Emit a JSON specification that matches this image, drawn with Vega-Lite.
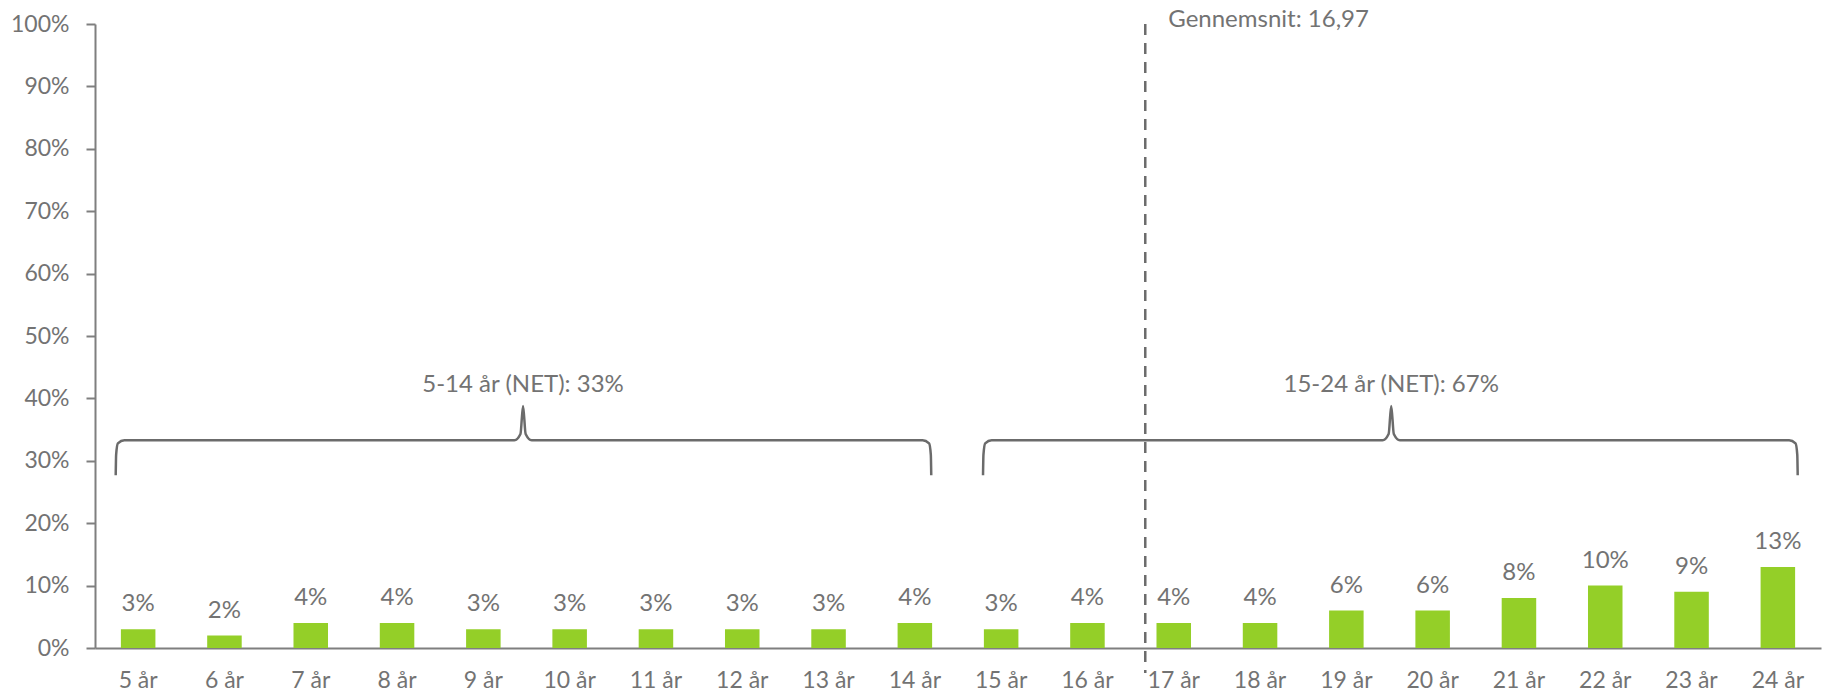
{
  "$schema": "https://vega.github.io/schema/vega-lite/v6.json",
  "width": 1726,
  "height": 624,
  "autosize": {"type": "none"},
  "padding": {"left": 95, "top": 24, "right": 1, "bottom": 47},
  "background": "white",
  "config": {
    "font": "Lato",
    "view": {"stroke": null},
    "axis": {"labelFont": "Lato", "labelColor": "#737373", "domainColor": "#7f7f7f", "tickColor": "#7f7f7f", "domainWidth": 2, "tickWidth": 2}
  },
  "datasets": {
    "bars": [
      {"age": "5 år", "value": 0.03},
      {"age": "6 år", "value": 0.02},
      {"age": "7 år", "value": 0.04},
      {"age": "8 år", "value": 0.04},
      {"age": "9 år", "value": 0.03},
      {"age": "10 år", "value": 0.03},
      {"age": "11 år", "value": 0.03},
      {"age": "12 år", "value": 0.03},
      {"age": "13 år", "value": 0.03},
      {"age": "14 år", "value": 0.04},
      {"age": "15 år", "value": 0.03},
      {"age": "16 år", "value": 0.04},
      {"age": "17 år", "value": 0.04},
      {"age": "18 år", "value": 0.04},
      {"age": "19 år", "value": 0.06},
      {"age": "20 år", "value": 0.06},
      {"age": "21 år", "value": 0.08},
      {"age": "22 år", "value": 0.10},
      {"age": "23 år", "value": 0.09},
      {"age": "24 år", "value": 0.13}
    ],
    "braces": [
      {"brace": "a", "x": 4.74, "y": 0.277},
      {"brace": "a", "x": 4.745, "y": 0.31},
      {"brace": "a", "x": 4.765, "y": 0.328},
      {"brace": "a", "x": 4.84, "y": 0.333},
      {"brace": "a", "x": 9.36, "y": 0.333},
      {"brace": "a", "x": 9.43, "y": 0.343},
      {"brace": "a", "x": 9.46, "y": 0.388},
      {"brace": "a", "x": 9.49, "y": 0.343},
      {"brace": "a", "x": 9.56, "y": 0.333},
      {"brace": "a", "x": 14.09, "y": 0.333},
      {"brace": "a", "x": 14.165, "y": 0.328},
      {"brace": "a", "x": 14.185, "y": 0.31},
      {"brace": "a", "x": 14.19, "y": 0.277},
      {"brace": "b", "x": 14.79, "y": 0.277},
      {"brace": "b", "x": 14.795, "y": 0.31},
      {"brace": "b", "x": 14.815, "y": 0.328},
      {"brace": "b", "x": 14.89, "y": 0.333},
      {"brace": "b", "x": 19.42, "y": 0.333},
      {"brace": "b", "x": 19.49, "y": 0.343},
      {"brace": "b", "x": 19.52, "y": 0.388},
      {"brace": "b", "x": 19.55, "y": 0.343},
      {"brace": "b", "x": 19.62, "y": 0.333},
      {"brace": "b", "x": 24.13, "y": 0.333},
      {"brace": "b", "x": 24.205, "y": 0.328},
      {"brace": "b", "x": 24.225, "y": 0.31},
      {"brace": "b", "x": 24.23, "y": 0.277}
    ],
    "braceLabels": [
      {"x": 9.46, "y": 0.421, "label": "5-14 år (NET): 33%"},
      {"x": 19.52, "y": 0.421, "label": "15-24 år (NET): 67%"}
    ],
    "mean": [
      {"x": 16.67, "top": 1.0, "bottom": -0.04, "labelY": 1.0, "label": "Gennemsnit: 16,97"}
    ]
  },
  "resolve": {"scale": {"x": "independent"}},
  "layer": [
    {
      "data": {"name": "bars"},
      "mark": {"type": "bar", "color": "#94cf28"},
      "encoding": {
        "x": {"field": "age", "type": "nominal", "sort": null,
              "scale": {"paddingInner": 0.6, "paddingOuter": 0.3},
              "axis": {"title": null, "labelAngle": 0, "ticks": false, "labelFontSize": 23, "labelPadding": 21}},
        "y": {"field": "value", "type": "quantitative",
              "scale": {"domain": [0, 1], "nice": false},
              "axis": {"title": null, "format": ".0%", "values": [0, 0.1, 0.2, 0.3, 0.4, 0.5, 0.6, 0.7, 0.8, 0.9, 1.0], "grid": false, "tickSize": 9, "labelFontSize": 23, "labelPadding": 17}}
      }
    },
    {
      "data": {"name": "bars"},
      "mark": {"type": "text", "baseline": "alphabetic", "dy": -18, "fontSize": 24, "color": "#737373", "font": "Lato"},
      "encoding": {
        "x": {"field": "age", "type": "nominal", "sort": null,
              "scale": {"paddingInner": 0.6, "paddingOuter": 0.3}, "axis": null},
        "y": {"field": "value", "type": "quantitative", "scale": {"domain": [0, 1], "nice": false}},
        "text": {"field": "value", "type": "quantitative", "format": ".0%"}
      }
    },
    {
      "data": {"name": "mean"},
      "mark": {"type": "rule", "color": "#6b6b6b", "strokeWidth": 2.5, "strokeDash": [11, 8]},
      "encoding": {
        "x": {"field": "x", "type": "quantitative", "scale": {"domain": [4.5, 24.5], "nice": false, "zero": false}, "axis": null},
        "y": {"field": "top", "type": "quantitative", "scale": {"domain": [0, 1], "nice": false}},
        "y2": {"field": "bottom"}
      }
    },
    {
      "data": {"name": "mean"},
      "mark": {"type": "text", "align": "left", "baseline": "middle", "dx": 23, "dy": -4, "fontSize": 24, "color": "#737373", "font": "Lato"},
      "encoding": {
        "x": {"field": "x", "type": "quantitative", "scale": {"domain": [4.5, 24.5], "nice": false, "zero": false}, "axis": null},
        "y": {"field": "labelY", "type": "quantitative", "scale": {"domain": [0, 1], "nice": false}},
        "text": {"field": "label"}
      }
    },
    {
      "data": {"name": "braces"},
      "mark": {"type": "line", "color": "#6b6b6b", "strokeWidth": 2.5, "interpolate": "monotone"},
      "encoding": {
        "x": {"field": "x", "type": "quantitative", "scale": {"domain": [4.5, 24.5], "nice": false, "zero": false}, "axis": null},
        "y": {"field": "y", "type": "quantitative", "scale": {"domain": [0, 1], "nice": false}},
        "detail": {"field": "brace"}
      }
    },
    {
      "data": {"name": "braceLabels"},
      "mark": {"type": "text", "align": "center", "baseline": "middle", "fontSize": 24, "color": "#737373", "font": "Lato"},
      "encoding": {
        "x": {"field": "x", "type": "quantitative", "scale": {"domain": [4.5, 24.5], "nice": false, "zero": false}, "axis": null},
        "y": {"field": "y", "type": "quantitative", "scale": {"domain": [0, 1], "nice": false}},
        "text": {"field": "label"}
      }
    }
  ]
}
